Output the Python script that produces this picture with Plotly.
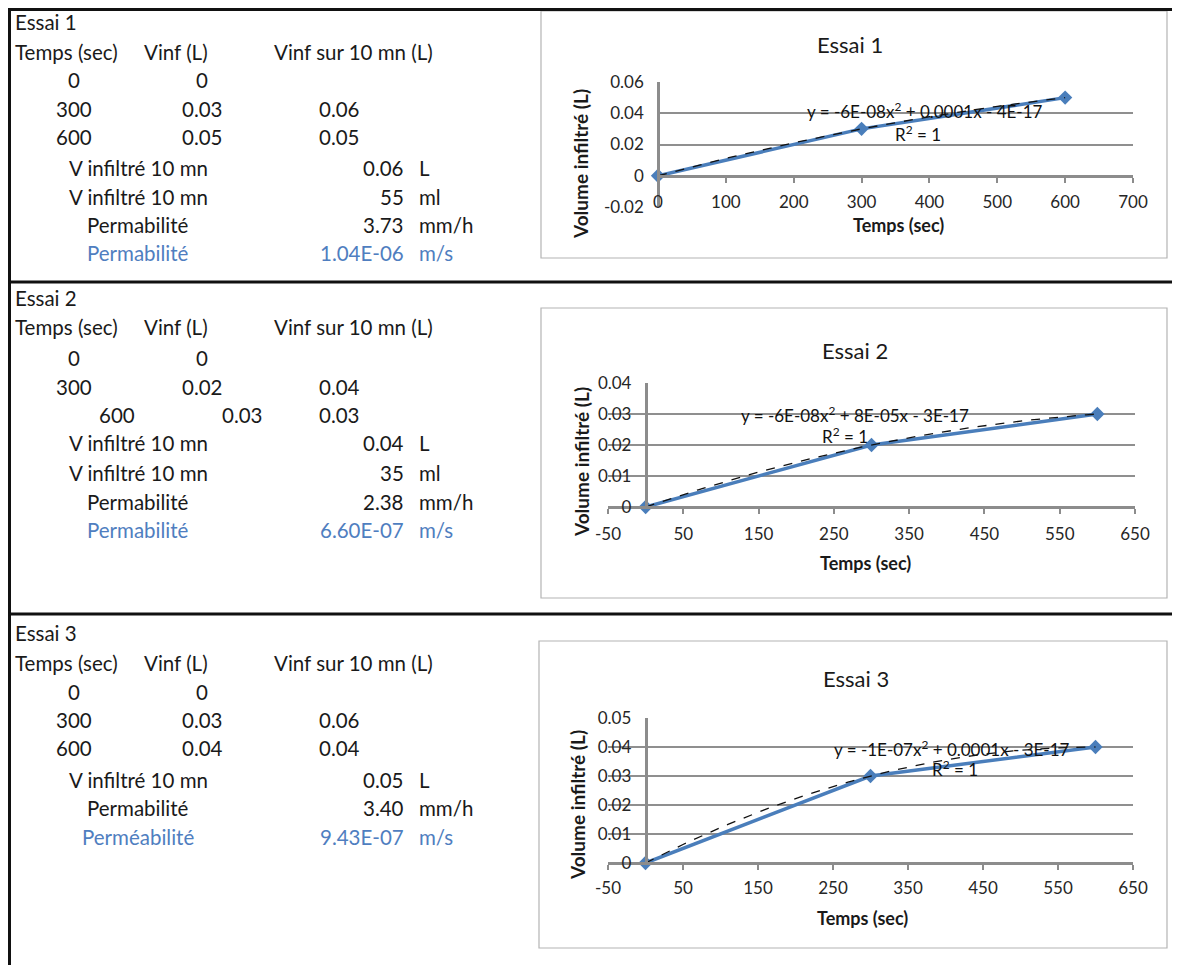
import numpy as np
import plotly.graph_objects as go

# page body keeps an 8px margin, so the figure sits at (8, 8) in the window
OFF = 8
W, H = 1180 - OFF, 965 - OFF

# ---- data read from the sheet ----
essais = ["Essai 1", "Essai 2", "Essai 3"]
headers = ["Temps (sec)", "Vinf (L)", "Vinf sur 10 mn (L)"]
temps = [0, 300, 600]
vinf_1 = [0, 0.03, 0.05]
vinf_2 = [0, 0.02, 0.03]
vinf_3 = [0, 0.03, 0.04]
vinf10_1 = ["", "0.06", "0.05"]
vinf10_2 = ["", "0.04", "0.03"]
vinf10_3 = ["", "0.06", "0.04"]

resume_1 = [("V infiltré 10 mn", "0.06", "L"), ("V infiltré 10 mn", "55", "ml"),
            ("Permabilité", "3.73", "mm/h"), ("Permabilité", "1.04E-06", "m/s")]
resume_2 = [("V infiltré 10 mn", "0.04", "L"), ("V infiltré 10 mn", "35", "ml"),
            ("Permabilité", "2.38", "mm/h"), ("Permabilité", "6.60E-07", "m/s")]
resume_3 = [("V infiltré 10 mn", "0.05", "L"), ("Permabilité", "3.40", "mm/h"),
            ("Perméabilité", "9.43E-07", "m/s")]

equations = ["y = -6E-08x<sup>2</sup> + 0.0001x - 4E-17",
             "y = -6E-08x<sup>2</sup> + 8E-05x - 3E-17",
             "y = -1E-07x<sup>2</sup> + 0.0001x - 3E-17"]

x_ticks_1 = [0, 100, 200, 300, 400, 500, 600, 700]
x_text_1 = ["0", "100", "200", "300", "400", "500", "600", "700"]
x_ticks_23 = [-50, 50, 150, 250, 350, 450, 550, 650]
x_text_23 = ["-50", "50", "150", "250", "350", "450", "550", "650"]
y_ticks_1 = [-0.02, 0, 0.02, 0.04, 0.06]
y_text_1 = ["-0.02", "0", "0.02", "0.04", "0.06"]
y_ticks_2 = [0, 0.01, 0.02, 0.03, 0.04]
y_text_2 = ["0", "0.01", "0.02", "0.03", "0.04"]
y_ticks_3 = [0, 0.01, 0.02, 0.03, 0.04, 0.05]
y_text_3 = ["0", "0.01", "0.02", "0.03", "0.04", "0.05"]


# window pixels -> paper fractions
def fx(x):
    return (x - OFF) / W


def fy(y):
    return 1 - (y - OFF) / H


FONT = "Lato"
BLUE_TXT = "#4F7EC0"
LINE_BLUE = "#4A7EBB"

fig = go.Figure()
annotations = []
shapes = []


def txt(x, y, s, anchor="left", size=20.5, color="#1a1a1a", bold=False, angle=0):
    annotations.append(dict(
        x=fx(x), y=fy(y), xref="paper", yref="paper", text=f"<b>{s}</b>" if bold else s,
        showarrow=False, xanchor=anchor, yanchor="middle", textangle=angle,
        font=dict(family=FONT, size=size, color=color)))


# ---- sheet frame ----
for (x0, y0, x1, y1) in [(9.5, 8, 9.5, 965), (8, 9.5, 1180, 9.5), (8, 282, 1180, 282), (8, 614, 1180, 614)]:
    shapes.append(dict(type="line", xref="paper", yref="paper", x0=fx(x0), y0=fy(y0),
                       x1=fx(x1), y1=fy(y1), line=dict(color="#111", width=3)))

# ---- tables ----
tables = [
    dict(v=vinf_1, v10=vinf10_1, res=resume_1, ys=[22, 52, 80, 109, 137, 168, 197, 225, 253], shift={}),
    dict(v=vinf_2, v10=vinf10_2, res=resume_2, ys=[298, 327, 358, 387, 415, 443, 473, 502, 530], shift={2: (43, 40)}),
    dict(v=vinf_3, v10=vinf10_3, res=resume_3, ys=[633, 663, 692, 720, 748, 780, 808, 837], shift={}),
]
for k, tb in enumerate(tables):
    ys = tb["ys"]
    txt(13, ys[0], essais[k])
    txt(13, ys[1], headers[0])
    txt(142, ys[1], headers[1])
    txt(272, ys[1], headers[2])
    for i in range(3):
        dx0, dx1 = tb["shift"].get(i, (0, 0))
        vtxt = "0" if tb["v"][i] == 0 else f"{tb['v'][i]:.2f}"
        txt(74 + dx0, ys[2 + i], str(temps[i]), "center")
        txt(202 + dx1, ys[2 + i], vtxt, "center")
        if tb["v10"][i]:
            txt(339, ys[2 + i], tb["v10"][i], "center")
    n = len(tb["res"])
    for j, (lab, val, unit) in enumerate(tb["res"]):
        col = BLUE_TXT if j == n - 1 else "#1a1a1a"
        txt(138, ys[5 + j], lab, "center", color=col)
        txt(406, ys[5 + j], val, "right", color=col)
        txt(417, ys[5 + j], unit, "left", color=col)

# ---- charts ----
charts = [
    dict(v=vinf_1, box=(541, 11, 1167, 258), xd=(658, 1133), yd=(82, 207), xr=[0, 700],
         xt=x_ticks_1, xtt=x_text_1, xso=5,
         yr=[-0.02, 0.06], yt=y_ticks_1, ytt=y_text_1, title=(850, 45), xtitle=(898, 225),
         ytitle=(581, 164), eq=(925, 111), r2=(918, 133)),
    dict(v=vinf_2, box=(541, 308, 1167, 598), xd=(608, 1135), yd=(383, 507), xr=[-50, 650],
         xt=x_ticks_23, xtt=x_text_23, xso=6,
         yr=[0, 0.04], yt=y_ticks_2, ytt=y_text_2, title=(855, 350), xtitle=(865, 563),
         ytitle=(581, 462), eq=(855, 414), r2=(845, 435)),
    dict(v=vinf_3, box=(539, 641, 1167, 948), xd=(608, 1133), yd=(718, 863), xr=[-50, 650],
         xt=x_ticks_23, xtt=x_text_23, xso=4,
         yr=[0, 0.05], yt=y_ticks_3, ytt=y_text_3, title=(856, 678), xtitle=(862, 918),
         ytitle=(577, 805), eq=(952, 748), r2=(955, 768)),
]

layout_axes = {}
for k, c in enumerate(charts):
    n = "" if k == 0 else str(k + 1)
    xa, ya = "x" + n, "y" + n
    bx0, by0, bx1, by1 = c["box"]
    shapes.append(dict(type="rect", xref="paper", yref="paper", x0=fx(bx0), y0=fy(by1),
                       x1=fx(bx1), y1=fy(by0), line=dict(color="#b4b4b4", width=1.2),
                       fillcolor="white", layer="below"))

    fig.add_trace(go.Scatter(x=temps, y=c["v"], mode="lines+markers", xaxis=xa, yaxis=ya,
                             line=dict(color=LINE_BLUE, width=3.5),
                             marker=dict(symbol="diamond", size=11, color=LINE_BLUE),
                             showlegend=False, cliponaxis=False))
    coef = np.polyfit(temps, c["v"], 2)
    xs = np.linspace(temps[0], temps[-1], 121)
    fig.add_trace(go.Scatter(x=xs, y=np.polyval(coef, xs), mode="lines", xaxis=xa, yaxis=ya,
                             line=dict(color="#111", width=1.3, dash="dash"), showlegend=False))

    x0_px = c["xd"][0] + (0 - c["xr"][0]) / (c["xr"][1] - c["xr"][0]) * (c["xd"][1] - c["xd"][0])
    y0_px = c["yd"][1] - (0 - c["yr"][0]) / (c["yr"][1] - c["yr"][0]) * (c["yd"][1] - c["yd"][0])

    layout_axes["xaxis" + n] = dict(
        domain=[fx(c["xd"][0]), fx(c["xd"][1])], range=c["xr"], tickvals=c["xt"], ticktext=c["xtt"],
        anchor="free", position=fy(y0_px), showgrid=False, zeroline=False,
        showline=True, linecolor="#8c8c8c", linewidth=2.5, ticks="outside", ticklen=5,
        tickcolor="#8c8c8c", tickwidth=1.5, ticklabelstandoff=c["xso"],
        tickfont=dict(family=FONT, size=17, color="#262626"))
    layout_axes["yaxis" + n] = dict(
        domain=[fy(c["yd"][1]), fy(c["yd"][0])], range=c["yr"], tickvals=c["yt"], ticktext=c["ytt"],
        anchor="free", position=fx(x0_px), showgrid=True, gridcolor="#8f8f8f", gridwidth=1.5,
        zeroline=False, showline=True, linecolor="#8c8c8c", linewidth=2.5, ticks="",
        ticklabelstandoff=10,
        tickfont=dict(family=FONT, size=17, color="#262626"))

    txt(c["title"][0], c["title"][1], essais[k], "center", size=22)
    txt(c["xtitle"][0], c["xtitle"][1], "Temps (sec)", "center", size=18, bold=True)
    txt(c["ytitle"][0], c["ytitle"][1], "Volume infiltré (L)", "center", size=19,
        bold=True, angle=-90)
    txt(c["eq"][0], c["eq"][1], equations[k], "center", size=17, color="#111")
    txt(c["r2"][0], c["r2"][1], "R<sup>2</sup> = 1", "center", size=17, color="#111")

fig.update_layout(
    width=W, height=H, margin=dict(l=0, r=0, t=0, b=0, autoexpand=False),
    paper_bgcolor="white", plot_bgcolor="white",
    shapes=shapes, annotations=annotations, showlegend=False,
    **layout_axes)

fig.write_html("out.html")
